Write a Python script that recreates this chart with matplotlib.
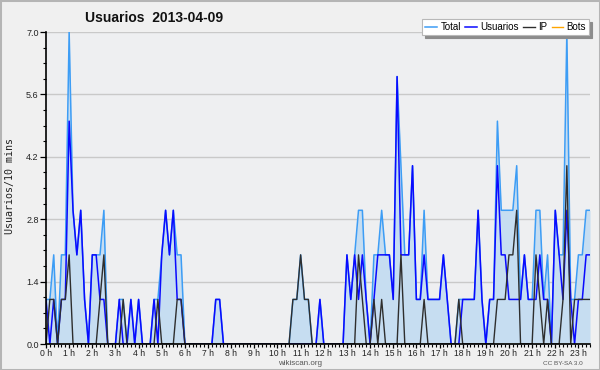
import numpy as np
import matplotlib
matplotlib.use("Agg")
import matplotlib.pyplot as plt
from matplotlib.patches import Rectangle
from matplotlib.ticker import MultipleLocator, FixedLocator

# ---------------- data (values per 10-minute slot, 00:00 .. 23:30) ----------------
title = "Usuarios  2013-04-09"
ylabel = "Usuarios/10 mins"
series_names = ["Total", "Usuarios", "IP", "Bots"]
hours = list(range(24))
hour_labels = [f"{h} h" for h in hours]
y_ticks = [0.0, 1.4, 2.8, 4.2, 5.6, 7.0]

total = [1, 1, 2, 0, 2, 2, 7, 3, 2, 3,
         1, 0, 2, 2, 2, 3, 0, 0, 0, 1,
         1, 0, 1, 0, 1, 0, 0, 0, 1, 1,
         2, 3, 2, 3, 2, 2, 0, 0, 0, 0,
         0, 0, 0, 0, 1, 1, 0, 0, 0, 0,
         0, 0, 0, 0, 0, 0, 0, 0, 0, 0,
         0, 0, 0, 0, 1, 1, 2, 1, 1, 0,
         0, 1, 0, 0, 0, 0, 0, 0, 2, 1,
         2, 3, 3, 1, 0, 2, 2, 3, 2, 2,
         1, 6, 4, 2, 2, 4, 1, 1, 3, 1,
         1, 1, 1, 2, 1, 0, 0, 1, 1, 1,
         1, 1, 3, 1, 0, 1, 1, 5, 3, 3,
         3, 3, 4, 1, 2, 1, 1, 3, 3, 1,
         2, 0, 3, 2, 2, 7, 1, 1, 2, 2,
         3, 3]

usuarios = [1, 0, 1, 0, 1, 1, 5, 3, 2, 3,
            1, 0, 2, 2, 1, 1, 0, 0, 0, 1,
            0, 0, 1, 0, 1, 0, 0, 0, 1, 0,
            2, 3, 2, 3, 1, 1, 0, 0, 0, 0,
            0, 0, 0, 0, 1, 1, 0, 0, 0, 0,
            0, 0, 0, 0, 0, 0, 0, 0, 0, 0,
            0, 0, 0, 0, 0, 0, 0, 0, 0, 0,
            0, 1, 0, 0, 0, 0, 0, 0, 2, 1,
            2, 1, 2, 1, 0, 1, 2, 2, 2, 2,
            1, 6, 2, 2, 2, 4, 1, 1, 2, 1,
            1, 1, 1, 2, 1, 0, 0, 0, 1, 1,
            1, 1, 3, 1, 0, 1, 1, 4, 2, 2,
            1, 1, 1, 1, 2, 1, 1, 1, 2, 1,
            1, 0, 3, 2, 1, 3, 1, 0, 1, 1,
            2, 2]

ip = [0, 1, 1, 0, 1, 1, 2, 0, 0, 0,
      0, 0, 0, 0, 1, 2, 0, 0, 0, 0,
      1, 0, 0, 0, 0, 0, 0, 0, 0, 1,
      0, 0, 0, 0, 1, 1, 0, 0, 0, 0,
      0, 0, 0, 0, 0, 0, 0, 0, 0, 0,
      0, 0, 0, 0, 0, 0, 0, 0, 0, 0,
      0, 0, 0, 0, 1, 1, 2, 1, 1, 0,
      0, 0, 0, 0, 0, 0, 0, 0, 0, 0,
      0, 2, 1, 0, 0, 1, 0, 1, 0, 0,
      0, 0, 2, 0, 0, 0, 0, 0, 1, 0,
      0, 0, 0, 0, 0, 0, 0, 1, 0, 0,
      0, 0, 0, 0, 0, 0, 0, 1, 1, 1,
      2, 2, 3, 0, 0, 0, 0, 2, 1, 0,
      1, 0, 0, 0, 1, 4, 0, 1, 1, 1,
      1, 1]

bots = [0, 0, 0, 0, 0, 0, 0, 0, 0, 0,
        0, 0, 0, 0, 0, 0, 0, 0, 0, 0,
        0, 0, 0, 0, 0, 0, 0, 0, 0, 0,
        0, 0, 0, 0, 0, 0, 0, 0, 0, 0,
        0, 0, 0, 0, 0, 0, 0, 0, 0, 0,
        0, 0, 0, 0, 0, 0, 0, 0, 0, 0,
        0, 0, 0, 0, 0, 0, 0, 0, 0, 0,
        0, 0, 0, 0, 0, 0, 0, 0, 0, 0,
        0, 0, 0, 0, 0, 0, 0, 0, 0, 0,
        0, 0, 0, 0, 0, 0, 0, 0, 0, 0,
        0, 0, 0, 0, 0, 0, 0, 0, 0, 0,
        0, 0, 0, 0, 0, 0, 0, 0, 0, 0,
        0, 0, 0, 0, 0, 0, 0, 0, 0, 0,
        0, 0, 0, 0, 0, 0, 0, 0, 0, 0,
        0, 0]

# ---------------- style ----------------
C_TOTAL = "#3d9df5"
C_FILL = "#c6ddf1"
C_USU = "#0a0aff"
C_IP = "#2e2e2e"
C_BOTS = "#ffa500"
BG = "#f0f0f0"
TXT = "#222222"

plt.rcParams["font.family"] = ["Liberation Sans", "DejaVu Sans"]

slots = np.arange(len(total))

fig = plt.figure(figsize=(6, 3.7), dpi=100, facecolor=BG)
ax = fig.add_axes([46 / 600, 26 / 370, 544 / 600, 312 / 370])
ax.set_facecolor("#eeeff1")

ax.fill_between(slots, total, 0, color=C_FILL, lw=0, zorder=1)
l_total, = ax.plot(slots, total, color=C_TOTAL, lw=1.1, zorder=2)
l_usu, = ax.plot(slots, usuarios, color=C_USU, lw=1.1, zorder=2.1)
l_ip, = ax.plot(slots, ip, color=C_IP, lw=1.0, zorder=2.2)
l_bots, = ax.plot(slots, bots, color=C_BOTS, lw=1.0, zorder=1.5)

ax.set_xlim(0, len(total) - 1)
ax.set_ylim(0, 7.0)

ax.set_yticks(y_ticks)
ax.set_yticklabels([f"{v:.1f}" for v in y_ticks])
ax.yaxis.set_minor_locator(MultipleLocator(0.35))
ax.xaxis.set_major_locator(FixedLocator([h * 6 for h in hours]))
ax.set_xticklabels(hour_labels)
ax.xaxis.set_minor_locator(MultipleLocator(1))

ax.tick_params(axis="y", which="major", direction="out", length=4, width=0.9,
               labelsize=6.5, colors="black", labelcolor=TXT, pad=1.2)
ax.tick_params(axis="x", which="major", direction="out", length=3, width=0.9,
               labelsize=6.2, colors="black", labelcolor=TXT, pad=0.6)
ax.tick_params(axis="both", which="minor", direction="out", length=2.5, width=0.8,
               colors="black")

ax.yaxis.grid(True, color="#c9c9c9", lw=1.0)
ax.set_axisbelow(True)
for s in ["top", "right"]:
    ax.spines[s].set_visible(False)
for s in ["left", "bottom"]:
    ax.spines[s].set_color("black")
    ax.spines[s].set_linewidth(1.2)

fig.text(10 / 600, 1 - 186 / 370, ylabel, rotation=90, ha="center", va="center",
         family="DejaVu Sans Mono", size=7.2, color=TXT)
fig.text(85 / 600, 1 - 18 / 370, title, ha="left", va="center",
         fontweight="bold", size=10, color="#111111")
fig.text(300 / 600, 1 - 363.5 / 370, "wikiscan.org", ha="center", va="center",
         size=5.8, color="#555555")
fig.text(563 / 600, 1 - 363.5 / 370, "CC BY-SA 3.0", ha="center", va="center",
         size=4.6, color="#555555")

leg = ax.legend([l_total, l_usu, l_ip, l_bots], series_names, loc="upper right",
                bbox_to_anchor=(589 / 600, 1 - 19 / 370), bbox_transform=fig.transFigure,
                ncol=4, prop={"size": 7}, frameon=True, fancybox=False,
                shadow={"color": "#8c8c8c", "alpha": 1}, handlelength=1.2,
                handletextpad=0.35, columnspacing=0.45, borderpad=0.3,
                borderaxespad=0, framealpha=1, edgecolor="#b8b8b8")
leg.get_frame().set_linewidth(0.8)
leg.set_zorder(10)

fig.patches.append(Rectangle((0, 0), 1, 1, transform=fig.transFigure, fill=False,
                             edgecolor="#b5b5b5", lw=2.2))

fig.savefig("out.png", dpi=100, facecolor=fig.get_facecolor())
